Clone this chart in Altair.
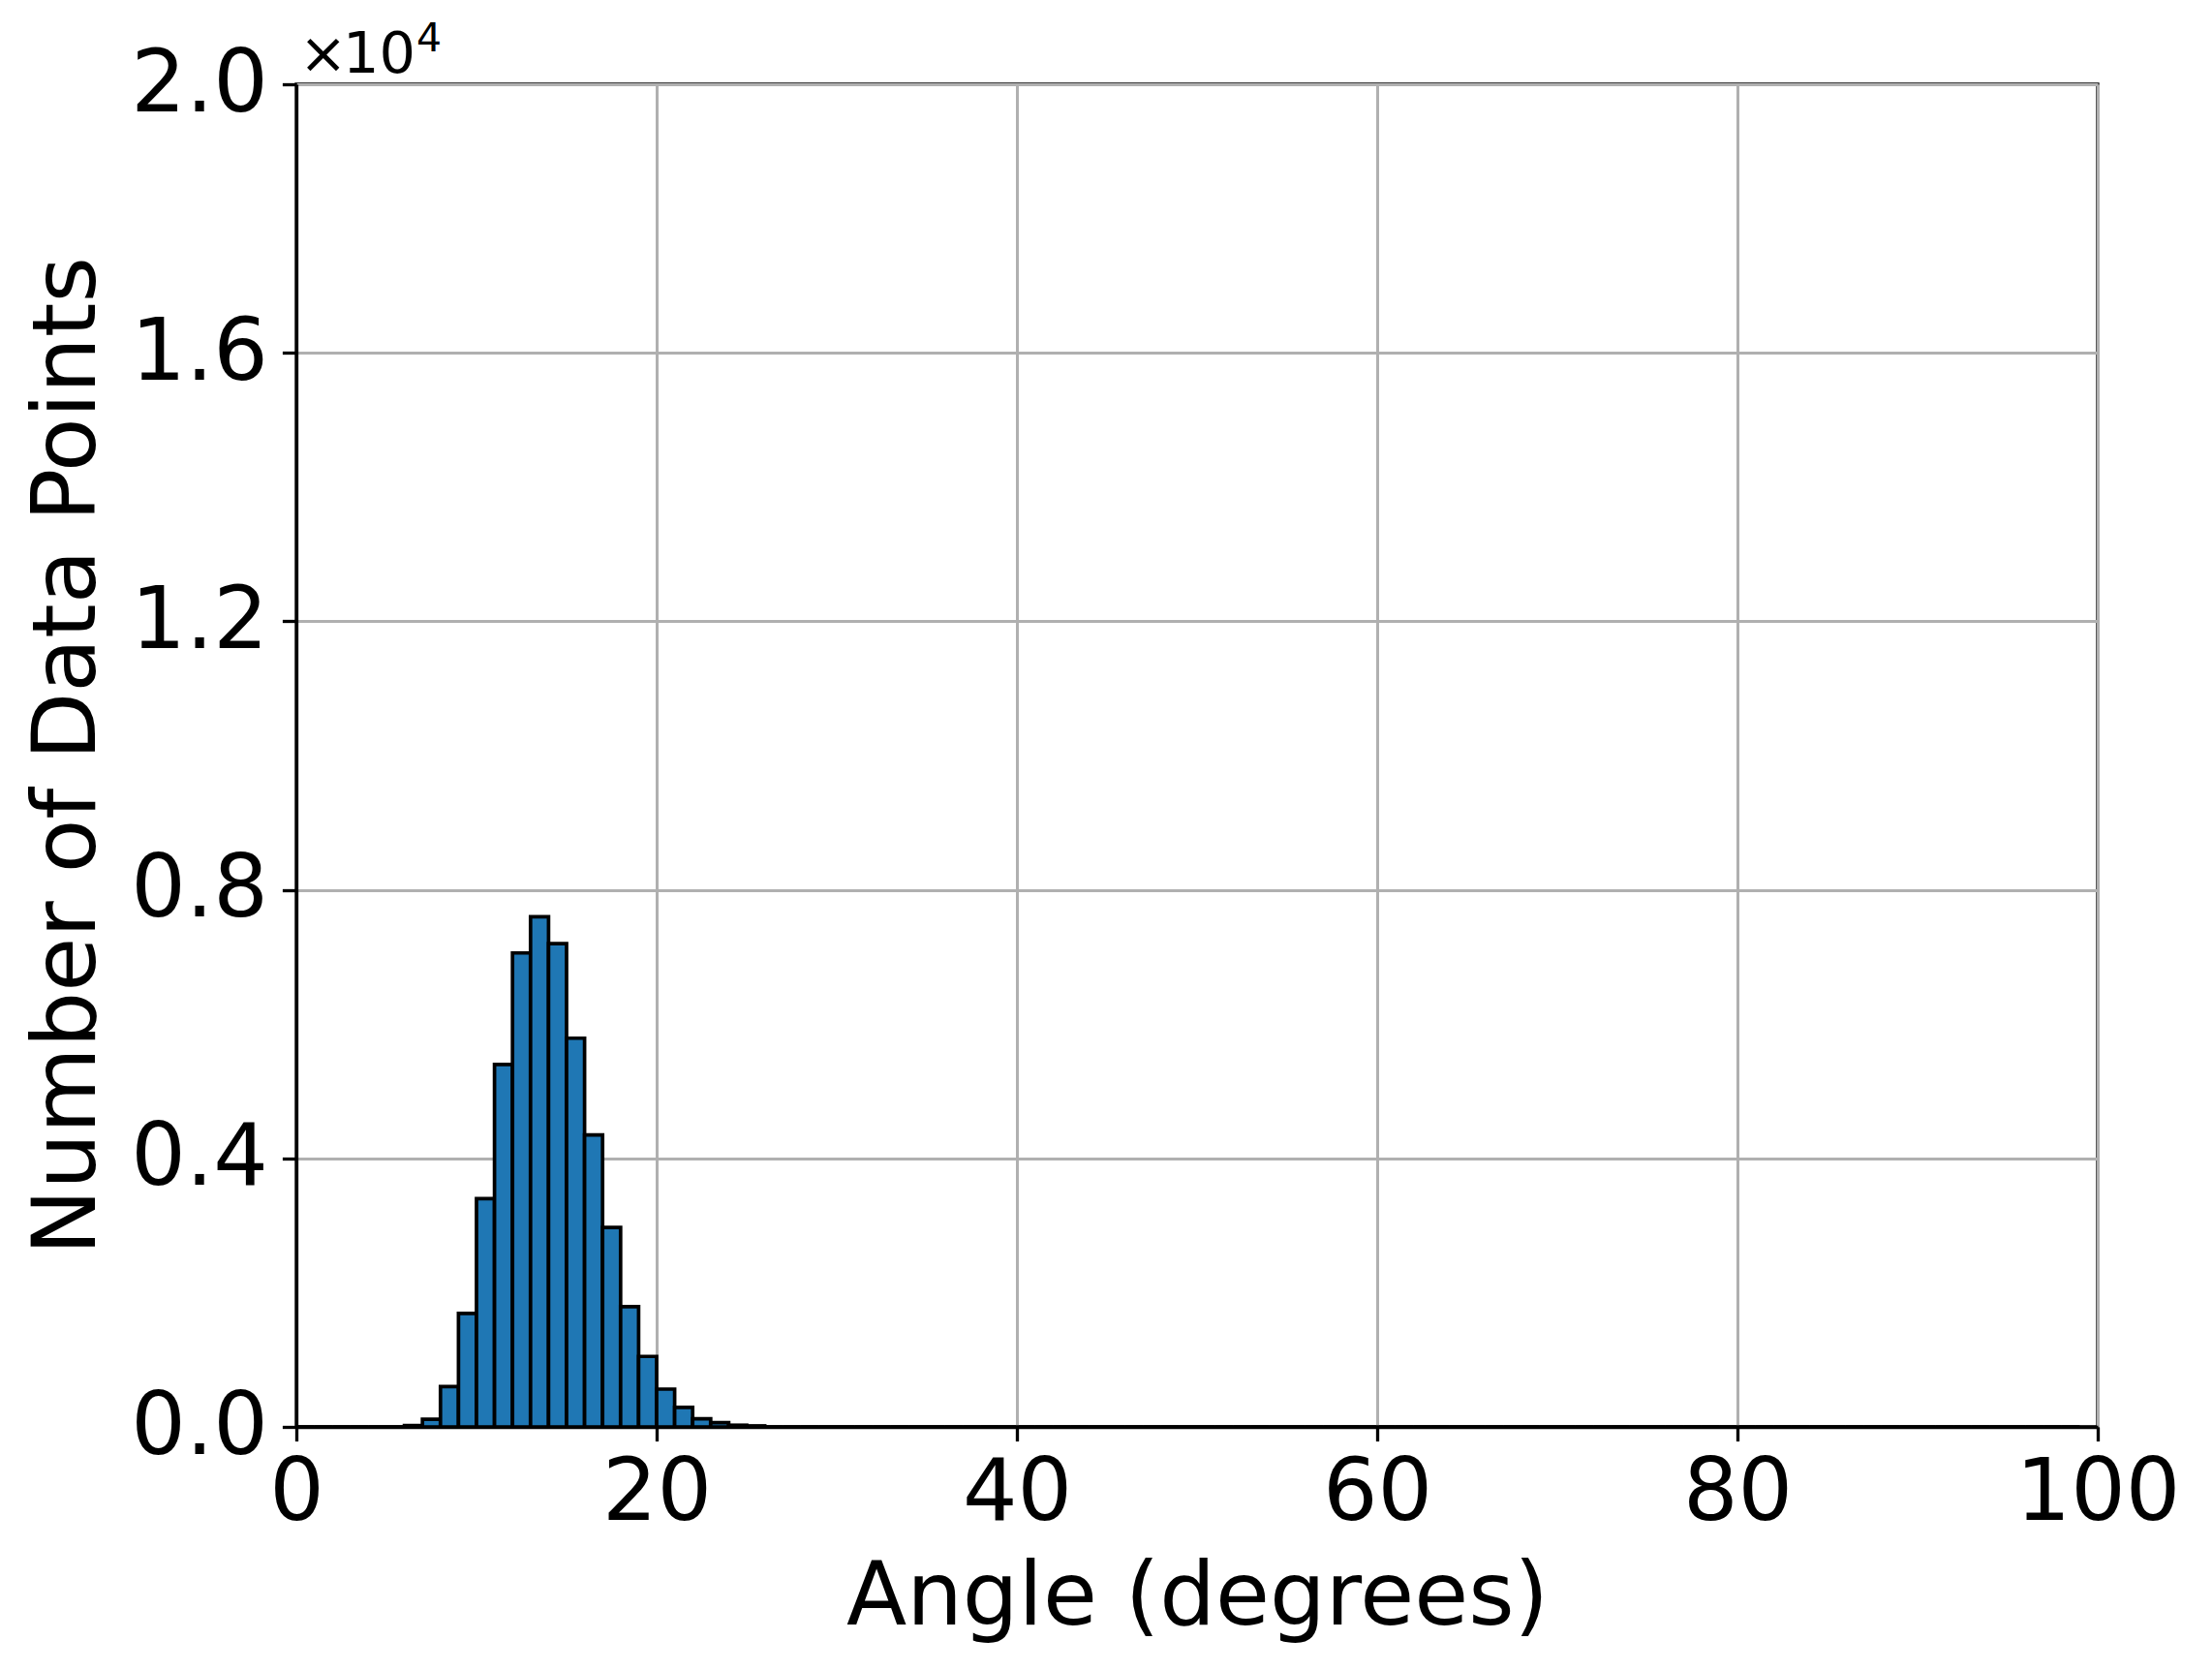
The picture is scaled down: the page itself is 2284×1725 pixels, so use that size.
import altair as alt
import pandas as pd

# Histogram bins (1-degree wide, 0..99) and counts
bin_start = list(range(0, 99))
counts_nonzero = {
    6: 20, 7: 115, 8: 600, 9: 1690, 10: 3400, 11: 5400, 12: 7060,
    13: 7600, 14: 7200, 15: 5790, 16: 4350, 17: 2970, 18: 1790,
    19: 1050, 20: 563, 21: 290, 22: 120, 23: 62, 24: 25, 25: 15,
}
counts = [counts_nonzero.get(b, 0) for b in bin_start]

y_ticks = [0, 4000, 8000, 12000, 16000, 20000]
x_ticks = [0, 20, 40, 60, 80, 100]

FONT = "DejaVu Sans"

df = pd.DataFrame({
    "start": bin_start,
    "end": [b + 1 for b in bin_start],
    "count": counts,
})

bars = alt.Chart(df).mark_rect(
    color="#1f77b4", stroke="black", strokeWidth=3.7
).encode(
    x=alt.X("start:Q",
            scale=alt.Scale(domain=[0, 100], nice=False, zero=False),
            axis=alt.Axis(values=x_ticks, format="d", title="Angle (degrees)")),
    x2="end:Q",
    y=alt.Y("count:Q",
            scale=alt.Scale(domain=[0, 20000], nice=False),
            axis=alt.Axis(values=y_ticks,
                          labelExpr="format(datum.value / 10000, '.1f')",
                          title="Number of Data Points")),
    y2=alt.datum(0),
)

times = alt.Chart(pd.DataFrame({"t": ["×"]})).mark_text(
    font=FONT, fontSize=59, align="left", baseline="alphabetic", color="black"
).encode(x=alt.value(3), y=alt.value(-12), text="t:N")

ten = alt.Chart(pd.DataFrame({"t": ["10"]})).mark_text(
    font=FONT, fontSize=59, align="left", baseline="alphabetic", color="black"
).encode(x=alt.value(48), y=alt.value(-12), text="t:N")

expo = alt.Chart(pd.DataFrame({"t": ["4"]})).mark_text(
    font=FONT, fontSize=41, align="left", baseline="alphabetic", color="black"
).encode(x=alt.value(124), y=alt.value(-34), text="t:N")

chart = alt.layer(bars, times, ten, expo).properties(
    width=1860,
    height=1386,
    autosize=alt.AutoSizeParams(type="none"),
    padding={"left": 298, "top": 79, "right": 110, "bottom": 244},
).configure_view(
    stroke="black", strokeWidth=3.3
).configure_axis(
    labelFont=FONT, titleFont=FONT,
    labelFontSize=89, titleFontSize=91,
    titleFontWeight="normal",
    labelColor="black", titleColor="black",
    tickColor="black", tickWidth=3.3, tickSize=14.6,
    domainColor="black", domainWidth=3.3,
    gridColor="#b0b0b0", gridWidth=3,
    labelFlush=False, labelOverlap=False, labelLimit=0,
).configure_axisX(
    labelPadding=11, titlePadding=18,
).configure_axisY(
    labelPadding=15, titlePadding=18,
)

chart.save("out.html", embed_options={"renderer": "svg", "actions": False})
